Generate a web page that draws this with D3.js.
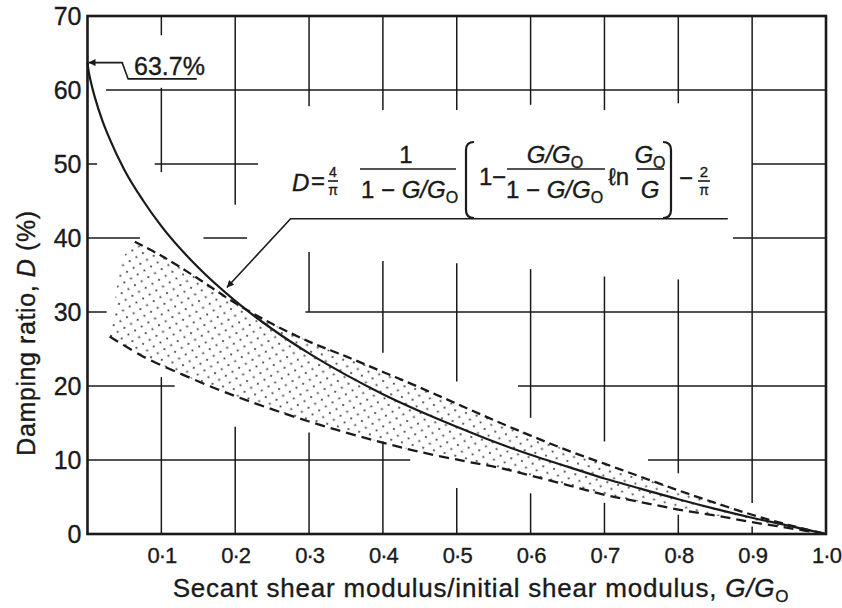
<!DOCTYPE html>
<html><head><meta charset="utf-8">
<script src="https://cdn.jsdelivr.net/npm/d3@7"></script>
<style>body{margin:0;background:#fff}svg{display:block}text{font-family:"Liberation Sans",Arial,sans-serif;fill:#1a1a1a;stroke:#1a1a1a;stroke-width:0.35px}</style>
</head><body><svg id="c" width="842" height="608"></svg>
<script>
// ---- data ----
const xTicks = [0.1,0.2,0.3,0.4,0.5,0.6,0.7,0.8,0.9,1.0];
const xTickLabels = ["0·1","0·2","0·3","0·4","0·5","0·6","0·7","0·8","0·9","1·0"];
const yTicks = [0,10,20,30,40,50,60,70];
const yTickLabels = ["0","10","20","30","40","50","60","70"];
// theoretical curve (solid)
const solidX = [0,0.001,0.005,0.01,0.02,0.03,0.05,0.075,0.1,0.15,0.2,0.25,0.3,0.35,0.4,0.45,0.5,0.55,0.6,0.65,0.7,0.75,0.8,0.85,0.9,0.95,1.0];
const solidD = [63.7,62.9,60.9,59.0,55.9,53.4,49.2,45.1,41.6,36.0,31.5,27.7,24.4,21.5,18.9,16.6,14.5,12.5,10.7,9.1,7.5,6.1,4.7,3.4,2.2,1.1,0];
// upper bound of measured range (dashed)
const upperX = [0.064,0.1,0.15,0.2,0.25,0.3,0.35,0.4,0.45,0.5,0.55,0.6,0.65,0.7,0.75,0.8,0.85,0.9,0.95,1.0];
const upperD = [39.5,37.6,34.5,31.2,28.4,26.0,24.0,21.9,19.8,17.6,15.4,13.3,11.3,9.5,7.7,5.9,4.2,2.6,1.2,0];
// lower bound of measured range (dashed)
const lowerX = [0.03,0.075,0.125,0.175,0.22,0.3,0.39,0.45,0.513,0.56,0.6,0.65,0.7,0.75,0.8,0.85,0.9,0.95,1.0];
const lowerD = [26.7,24.0,21.7,19.6,17.9,15.2,12.6,11.1,9.8,8.9,7.9,6.6,5.3,4.3,3.3,2.5,1.6,0.8,0];
const bandLeftEdge = [[0.045,37.0]];
// broken grid lines
const vGrid = [
  [0.1,[[70,67.4],[60.3,48.9],[21.2,0]]],
  [0.2,[[70,44.5],[14.5,0]]],
  [0.3,[[70,57.8],[38.1,30],[13.7,0]]],
  [0.4,[[70,57.3],[36.9,24.5],[12.5,0]]],
  [0.5,[[70,57.3],[36.6,20.6],[6.2,0]]],
  [0.6,[[70,58.0],[35.8,15.7],[5.5,0]]],
  [0.7,[[70,57.3],[34.8,12.5],[4.2,0]]],
  [0.8,[[70,58.2],[34.4,8.2],[2.6,0]]],
  [0.9,[[70,4.2],[1.0,0]]]
];
const hGrid = [
  [60,[[0.025,1]]],
  [50,[[0,0.013],[0.091,0.231],[0.9,1]]],
  [40,[[0,0.071],[0.157,0.216],[0.874,1]]],
  [30,[[0,0.026],[0.295,1]]],
  [20,[[0,0.118],[0.583,1]]],
  [10,[[0,0.437],[0.759,1]]]
];
const peakLabel = "63.7%";
const peakValue = 63.7;
const xTitle = "Secant shear modulus/initial shear modulus, ";
const yTitle = "Damping ratio, ";

// ---- chart ----
const svg = d3.select("#c");
const x = d3.scaleLinear([0,1],[87.5,826]);
const y = d3.scaleLinear([0,70],[534,16]);
const ink = "#1a1a1a";

const defs = svg.append("defs");
const pat = defs.append("pattern").attr("id","dots").attr("patternUnits","userSpaceOnUse")
  .attr("width",11).attr("height",11).attr("patternTransform","rotate(14)");
pat.append("circle").attr("cx",2).attr("cy",2).attr("r",1.05).attr("fill","#3a3a3a");
pat.append("circle").attr("cx",7.5).attr("cy",7.5).attr("r",1.05).attr("fill","#3a3a3a");
defs.append("marker").attr("id","arr").attr("viewBox","0 0 10 10").attr("refX",10).attr("refY",5)
  .attr("markerWidth",10).attr("markerHeight",7).attr("markerUnits","userSpaceOnUse").attr("orient","auto")
  .append("path").attr("d","M0,0L10,5L0,10Z").attr("fill",ink);

// grid
const g = svg.append("g").attr("stroke",ink).attr("stroke-width",1.5);
vGrid.forEach(([v,segs])=>segs.forEach(([a,b])=>g.append("line")
  .attr("x1",x(v)).attr("x2",x(v)).attr("y1",y(a)).attr("y2",y(b))));
hGrid.forEach(([d,segs])=>segs.forEach(([a,b])=>g.append("line")
  .attr("x1",x(a)).attr("x2",x(b)).attr("y1",y(d)).attr("y2",y(d))));

// dotted band
const up = upperX.map((v,i)=>[x(v),y(upperD[i])]);
const lo = lowerX.map((v,i)=>[x(v),y(lowerD[i])]).reverse();
const cr = d3.line().curve(d3.curveCatmullRom.alpha(0.5));
const edge = bandLeftEdge.map(([v,d])=>[x(v),y(d)]);
const bandPath = "M" + edge[0].join(",") + "L" + cr(up).slice(1) + "L" + cr(lo).slice(1) + "Z";
svg.append("path").attr("d",bandPath).attr("fill","url(#dots)").attr("stroke","none");

// dashed bounds
const dl = d3.line().x(d=>x(d[0])).y(d=>y(d[1])).curve(d3.curveCatmullRom.alpha(0.5));
svg.append("path").attr("d",dl(upperX.map((v,i)=>[v,upperD[i]])))
  .attr("fill","none").attr("stroke",ink).attr("stroke-width",2.3).attr("stroke-dasharray","9,5");
svg.append("path").attr("d",dl(lowerX.map((v,i)=>[v,lowerD[i]])))
  .attr("fill","none").attr("stroke",ink).attr("stroke-width",2.3).attr("stroke-dasharray","10,6");

// solid theoretical curve
const sl = d3.line().x(d=>x(d[0])).y(d=>y(d[1])).curve(d3.curveMonotoneX);
svg.append("path").attr("d",sl(solidX.map((v,i)=>[v,solidD[i]])))
  .attr("fill","none").attr("stroke",ink).attr("stroke-width",2.2);

// frame
svg.append("rect").attr("x",x(0)).attr("y",y(70)).attr("width",x(1)-x(0)).attr("height",y(0)-y(70))
  .attr("fill","none").attr("stroke",ink).attr("stroke-width",2.6);

// axes labels
const ax = svg.append("g").attr("transform",`translate(0,${y(0)})`)
  .call(d3.axisBottom(x).tickValues(xTicks).tickFormat((d,i)=>xTickLabels[i]).tickSize(0).tickPadding(13));
ax.select(".domain").remove();
ax.selectAll("text").attr("font-size",22).attr("fill",ink).attr("letter-spacing",-1).attr("font-family","Liberation Sans, Arial, sans-serif");
const ay = svg.append("g").attr("transform",`translate(${x(0)},0)`)
  .call(d3.axisLeft(y).tickValues(yTicks).tickFormat((d,i)=>yTickLabels[i]).tickSize(0).tickPadding(6));
ay.select(".domain").remove();
ay.selectAll("text").attr("font-size",25).attr("fill",ink).attr("font-family","Liberation Sans, Arial, sans-serif");

// axis titles
const xt = svg.append("text").attr("x",481).attr("y",597).attr("text-anchor","middle").attr("font-size",26).attr("letter-spacing",0.8);
xt.append("tspan").text(xTitle);
xt.append("tspan").attr("font-style","italic").text("G/G");
xt.append("tspan").attr("font-size",17).attr("dy",5).text("O");
const yt = svg.append("text").attr("transform","translate(35,333) rotate(-90)").attr("text-anchor","middle").attr("font-size",25).attr("letter-spacing",0.6);
yt.append("tspan").text(yTitle);
yt.append("tspan").attr("font-style","italic").text("D");
yt.append("tspan").text(" (%)");

// 63.7% annotation
const a0 = [x(0)+1, y(peakValue)];
svg.append("path").attr("d",`M${x(0.148)},${y(61.5)}L${x(0.055)},${y(61.5)}L${x(0.047)},${y(peakValue)}L${a0[0]},${a0[1]}`)
  .attr("fill","none").attr("stroke",ink).attr("stroke-width",1.6).attr("marker-end","url(#arr)");
svg.append("text").attr("x",x(0.063)).attr("y",y(62.0)).attr("font-size",25).text(peakLabel);

// formula leader
const tipV = 0.186, tipD = 32.9;
svg.append("path").attr("d",`M${x(0.867)},${y(42.6)}L${x(0.275)},${y(42.6)}L${x(tipV)+2},${y(tipD)-3}`)
  .attr("fill","none").attr("stroke",ink).attr("stroke-width",1.6).attr("marker-end","url(#arr)");

// formula
const f = svg.append("g");
function t(xp,yp,opts={}){
  const el=f.append("text").attr("x",xp).attr("y",yp).attr("font-size",opts.size||24)
    .attr("text-anchor",opts.anchor||"start");
  if(opts.italic) el.attr("font-style","italic");
  return el;
}
function gg(el,parts){ // parts: [text, italic, sub]
  parts.forEach(p=>{
    const s=el.append("tspan").text(p[0]);
    if(p[1]) s.attr("font-style","italic");
    if(p[2]) s.attr("font-size",16).attr("dy",5);
  });
  return el;
}
function bar(x1,x2,yy){ f.append("line").attr("x1",x1).attr("x2",x2).attr("y1",yy).attr("y2",yy).attr("stroke",ink).attr("stroke-width",1.6); }
t(292,191,{italic:true}).text("D");
t(311,189).text("=");
t(333,177,{size:14,anchor:"middle"}).text("4");
bar(328,338,181);
t(333,195,{size:14,anchor:"middle"}).text("π");
t(406,163,{anchor:"middle"}).text("1");
bar(360,456,169);
gg(t(361,198),[["1 − "],["G/G",true],["O",false,true]]);
f.append("path").attr("d","M474,142 Q466,142 466,150 L466,210 Q466,218 474,218").attr("fill","none").attr("stroke",ink).attr("stroke-width",2.2);
t(479,185).text("1");
t(492,185).text("−");
gg(t(555,163,{anchor:"middle"}),[["G/G",true],["O",false,true]]);
bar(507,605,169);
gg(t(506,198),[["1 − "],["G/G",true],["O",false,true]]);
t(608,185).text("ℓn");
gg(t(650,163,{anchor:"middle"}),[["G",true],["O",false,true]]);
bar(637,664,169);
t(650,198,{anchor:"middle",italic:true}).text("G");
f.append("path").attr("d","M663,142 Q671,142 671,150 L671,210 Q671,218 663,218").attr("fill","none").attr("stroke",ink).attr("stroke-width",2.2);
t(679,186).text("−");
t(704,177,{size:15,anchor:"middle"}).text("2");
bar(698,710,181);
t(704,195,{size:14,anchor:"middle"}).text("π");
</script></body></html>
